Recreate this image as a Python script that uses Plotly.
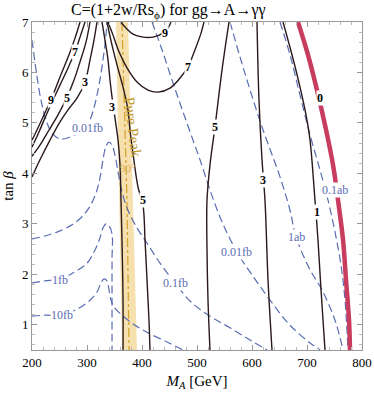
import plotly.graph_objects as go

# ---------------- data (M_A [GeV], tan beta) ----------------
# solid contours of C
c9_left_m = [287.3, 278.2, 267.3, 250.9, 236.4, 221.8, 209.1, 200]
c9_left_t = [7, 6.68, 6.35, 5.91, 5.51, 5.16, 4.86, 4.66]
c7_left_m = [296.4, 287.3, 278.2, 265.5, 250.9, 236.4, 223.6, 212.7, 200]
c7_left_t = [7, 6.70, 6.41, 6.09, 5.75, 5.41, 5.10, 4.82, 4.52]
c5_left_m = [305.5, 298.2, 287.3, 276.4, 263.6, 247.3, 230.9, 214.5, 200]
c5_left_t = [7, 6.60, 6.21, 5.85, 5.51, 5.16, 4.86, 4.56, 4.34]
c3_left_m = [318.2, 312.7, 305.5, 296.4, 281.8, 265.5, 250.9, 232.7, 214.5, 200]
c3_left_t = [7, 6.64, 6.25, 5.81, 5.49, 5.26, 5.02, 4.66, 4.27, 3.93]
c3_inner_m = [327.3, 332.7, 338.2, 341.8, 345.5, 352.7, 356.4, 360, 361.8, 363.6, 365.5, 365.5]
c3_inner_t = [7, 6.64, 6.25, 5.85, 5.51, 4.96, 4.66, 4.17, 3.47, 2.68, 1.49, 0.5]
c5_inner_m = [336.4, 345.5, 354.5, 365.5, 374.5, 378.2, 383.6, 392.7, 401.8, 405.5, 409.1, 412.7, 414.5]
c5_inner_t = [7, 6.54, 6.15, 5.71, 5.26, 4.86, 4.40, 3.73, 3.37, 2.68, 1.89, 1.09, 0.5]
c9_u_m = [361.8, 370.9, 383.6, 401.8, 420, 438.2, 447.3, 452.7]
c9_u_t = [7, 6.88, 6.76, 6.70, 6.70, 6.78, 6.88, 7]
c7_u_m = [338.2, 347.3, 358.2, 372.7, 390.9, 410.9, 429.1, 450.9, 469.1, 483.6, 496.4, 507.3, 512.7]
c7_u_t = [7, 6.74, 6.41, 6.09, 5.81, 5.65, 5.61, 5.69, 5.89, 6.11, 6.45, 6.78, 7]
c5_mid_m = [558.2, 545.5, 532.7, 523.6, 518.2, 518.2, 520, 523.6]
c5_mid_t = [7, 6.05, 4.92, 4.17, 3.47, 2.48, 1.49, 0.5]
c3_right_m = [609.1, 612.7, 618.2, 623.6, 629.1, 636.4]
c3_right_t = [7, 5.45, 4.27, 3.47, 1.89, 0.5]
c1_m = [656.4, 672.7, 687.3, 698.2, 705.5, 714.5, 720, 725.5, 732.7]
c1_t = [7, 6.35, 5.71, 5.16, 4.66, 3.47, 2.68, 1.69, 0.5]
c0_m = [683.6, 701.8, 718.2, 732.7, 747.3, 756.4, 765.5, 770.9, 776.4, 778.2]
c0_t = [7, 6.35, 5.65, 4.96, 4.17, 3.47, 2.68, 1.89, 1.09, 0.5]

# dashed cross-section contours
x001fb_a_m = [200, 207.3, 216.4, 225.5, 236.4, 250.9, 269.1, 287.3, 301.8, 312.7, 321.8, 329.1, 334.5, 336.4]
x001fb_a_t = [6.64, 6.05, 5.45, 5.06, 4.80, 4.68, 4.72, 4.82, 4.98, 5.30, 5.75, 6.25, 6.74, 7]
x01fb_m = [200, 223.6, 250.9, 272.7, 290.9, 305.5, 316.4, 323.6, 329.1, 334.5, 340, 345.5, 350.9, 356.4,
           363.6, 374.5, 390.9, 409.1, 432.7, 460, 487.3, 523.6, 560, 596.4, 627.3]
x01fb_t = [2.70, 2.76, 2.86, 2.98, 3.14, 3.35, 3.61, 3.91, 4.27, 4.54, 4.62, 4.56, 4.36, 4.03,
           3.63, 3.27, 2.92, 2.62, 2.22, 1.83, 1.47, 1.17, 0.94, 0.70, 0.50]
x1fb_m = [200, 223.6, 250.9, 278.2, 300, 314.5, 323.6, 329.1, 334.5, 340, 345.5, 345.5, 345.5, 345.5]
x1fb_t = [1.83, 1.87, 1.91, 2.05, 2.22, 2.48, 2.72, 2.92, 3.00, 2.96, 2.80, 2.28, 1.49, 0.5]
x10fb_m = [200, 223.6, 250.9, 278.2, 301.8, 318.2, 325.5, 330.9, 336.4, 340, 343.6, 349.1, 363.6,
           387.3, 414.5, 445.5, 474.5]
x10fb_t = [1.17, 1.19, 1.19, 1.29, 1.45, 1.65, 1.83, 1.91, 1.87, 1.69, 1.49, 1.35, 1.19,
           0.99, 0.82, 0.66, 0.50]
x001fb_b_m = [418.2, 436.4, 456.4, 474.5, 492.7, 505.5, 523.6, 545.5, 572.7, 600, 632.7, 669.1, 705.5, 723.6]
x001fb_b_t = [7, 6.45, 5.79, 5.22, 4.66, 4.27, 3.67, 3.04, 2.44, 1.99, 1.49, 0.99, 0.64, 0.5]
x1ab_m = [560, 583.6, 618.2, 650.9, 669.1, 680, 705.5, 727.3, 750.9, 765.5]
x1ab_t = [7, 6.11, 4.92, 3.93, 3.27, 2.74, 2.09, 1.69, 1.09, 0.5]
x01ab_m = [650.9, 669.1, 687.3, 705.5, 723.6, 738.2, 750.9, 761.8, 769.1, 774.5]
x01ab_t = [7, 6.35, 5.55, 4.76, 4.07, 3.47, 2.84, 2.18, 1.49, 0.5]

# pure peak band and 90 degree line
band_left_m = [352.7, 363.6]
band_right_m = [374.5, 390.9]
band_t = [7, 0.5]
phase90_m = [363.6, 372.7, 376.4]
phase90_t = [7, 3.47, 0.5]

# labels
c_label_text = ["9", "7", "5", "3", "3", "5", "9", "7", "5", "3", "1", "0"]
c_label_m = [234.5, 278.2, 263.6, 296.4, 345.5, 401.8, 441.8, 483.6, 532.7, 620, 718.2, 723.6]
c_label_t = [5.45, 6.41, 5.49, 5.81, 5.32, 3.47, 6.78, 6.11, 4.92, 3.87, 3.23, 5.49]
x_label_text = ["0.01fb", "0.1fb", "1fb", "10fb", "0.01fb", "1ab", "0.1ab"]
x_label_m = [300, 460, 250.9, 254.5, 572.7, 680, 750.9]
x_label_t = [4.90, 1.83, 1.89, 1.19, 2.44, 2.74, 3.67]

x_ticks = [200, 300, 400, 500, 600, 700, 800]
y_ticks = [1, 2, 3, 4, 5, 6, 7]

# ---------------- figure ----------------
SOLID = "#2b1a1c"
BLUE = "#5a6db3"
GOLD = "#d4a12a"
RED = "#c83c5e"
FONT = "Liberation Serif"

fig = go.Figure()

# band
fig.add_trace(go.Scatter(
    x=band_left_m + band_right_m[::-1], y=band_t + band_t[::-1],
    fill="toself", fillcolor="rgba(240,204,120,0.6)", line=dict(width=0),
    mode="lines", hoverinfo="skip", showlegend=False))
fig.add_trace(go.Scatter(x=phase90_m, y=phase90_t, mode="lines",
                         line=dict(color=GOLD, width=1.2, dash="dashdot"), showlegend=False))

for m, t in [(x001fb_a_m, x001fb_a_t), (x01fb_m, x01fb_t), (x1fb_m, x1fb_t), (x10fb_m, x10fb_t),
             (x001fb_b_m, x001fb_b_t), (x1ab_m, x1ab_t), (x01ab_m, x01ab_t)]:
    fig.add_trace(go.Scatter(x=m, y=t, mode="lines", line_shape="spline",
                             line=dict(color=BLUE, width=1.2, dash="8px,4px"), showlegend=False))

for m, t in [(c9_left_m, c9_left_t), (c7_left_m, c7_left_t), (c5_left_m, c5_left_t),
             (c3_left_m, c3_left_t), (c3_inner_m, c3_inner_t), (c5_inner_m, c5_inner_t),
             (c9_u_m, c9_u_t), (c7_u_m, c7_u_t), (c5_mid_m, c5_mid_t), (c3_right_m, c3_right_t),
             (c1_m, c1_t)]:
    fig.add_trace(go.Scatter(x=m, y=t, mode="lines", line_shape="spline",
                             line=dict(color=SOLID, width=1.4), showlegend=False))

fig.add_trace(go.Scatter(x=c0_m, y=c0_t, mode="lines", line_shape="spline",
                         line=dict(color=RED, width=4.5), showlegend=False))

ann = []
for s, m, t in zip(c_label_text, c_label_m, c_label_t):
    ann.append(dict(x=m, y=t, text="<b>" + s + "</b>", showarrow=False,
                    font=dict(family=FONT, size=12, color="black"),
                    bgcolor="white", borderpad=0))
for s, m, t in zip(x_label_text, x_label_m, x_label_t):
    ann.append(dict(x=m, y=t, text=s, showarrow=False,
                    font=dict(family=FONT, size=12, color=BLUE),
                    bgcolor="white", borderpad=0))
ann.append(dict(x=383.6, y=4.9, text="Pure Peak", showarrow=False, textangle=83,
                font=dict(family=FONT, size=15, color="#c39a2e")))
ann.append(dict(x=374.5, y=4.1, text="90°", showarrow=False,
                font=dict(family=FONT, size=11, color="#d9b055")))

fig.update_layout(
    width=374, height=393,
    margin=dict(l=32, r=12, t=22, b=43, autoexpand=False),
    paper_bgcolor="white", plot_bgcolor="white",
    font=dict(family=FONT, size=13, color="black"),
    title=dict(text="C=(1+2w/Rs<sub>ϕ</sub>) for gg→A→γγ", x=0.45, xanchor="center",
               xref="container", yref="container", y=0.975, yanchor="middle",
               font=dict(family=FONT, size=16)),
    annotations=ann,
    xaxis=dict(range=[200, 800], tickvals=x_ticks, ticks="inside", ticklen=5, tickcolor="#999",
               showline=True, linecolor="#999", mirror="ticks", showgrid=False, zeroline=False,
               automargin=False, tickfont=dict(size=13),
               minor=dict(dtick=20, ticks="inside", ticklen=3, tickcolor="#bbb"),
               title=dict(text="<i>M<sub>A</sub></i> [GeV]", standoff=6,
                          font=dict(family=FONT, size=15))),
    yaxis=dict(range=[0.5, 7], tickvals=y_ticks, ticks="inside", ticklen=5, tickcolor="#999",
               showline=True, linecolor="#999", mirror="ticks", showgrid=False, zeroline=False,
               automargin=False, tickfont=dict(size=13),
               minor=dict(dtick=0.2, ticks="inside", ticklen=3, tickcolor="#bbb"),
               title=dict(text="tan <i>β</i>", standoff=4, font=dict(family=FONT, size=15))),
)

fig.write_html("out.html", config={"displayModeBar": False},
               post_script="document.body.style.margin='0';")
